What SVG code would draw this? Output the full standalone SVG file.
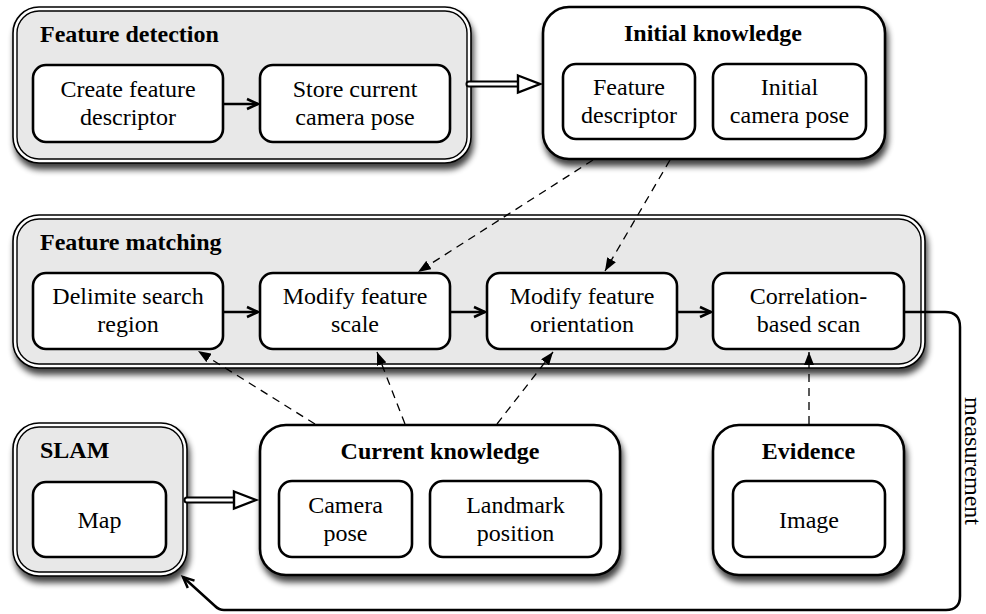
<svg xmlns="http://www.w3.org/2000/svg" width="986" height="614" viewBox="0 0 986 614">
<style>
.t{font-family:"Liberation Serif","Times New Roman",serif;font-size:24px;fill:#000;text-anchor:middle}
.tb{font-family:"Liberation Serif","Times New Roman",serif;font-size:24px;font-weight:bold;fill:#000}
.tc{text-anchor:middle}
.outer{fill:#fff;stroke:#000;stroke-width:1.6}
.innerc{fill:#e8e8e8;stroke:#000;stroke-width:1.4}
.kb{fill:#fff;stroke:#000;stroke-width:2.6}
.box{fill:#fff;stroke:#000;stroke-width:2.6}
.solid{fill:none;stroke:#000;stroke-width:2.5}
.dash{fill:none;stroke:#000;stroke-width:1.3;stroke-dasharray:8 6}
</style>
<defs>
<filter id="sh" x="-10%" y="-10%" width="125%" height="135%">
<feGaussianBlur in="SourceAlpha" stdDeviation="3"/>
<feOffset dx="2" dy="6" result="b"/>
<feComponentTransfer><feFuncA type="linear" slope="0.75"/></feComponentTransfer>
<feMerge><feMergeNode/><feMergeNode in="SourceGraphic"/></feMerge>
</filter>
<marker id="open" markerUnits="userSpaceOnUse" markerWidth="16" markerHeight="14" refX="13" refY="7" orient="auto">
<path d="M2,2 L13,7 L2,12" fill="none" stroke="#000" stroke-width="2.5"/>
</marker>
<marker id="fill" markerUnits="userSpaceOnUse" markerWidth="14" markerHeight="10" refX="13" refY="5" orient="auto">
<path d="M0,0 L13,5 L0,10 Z" fill="#000"/>
</marker>
</defs>

<g id="feature-detection">
<g filter="url(#sh)">
<rect class="outer" x="13" y="7" width="458" height="156" rx="26"/>
</g>
<rect class="innerc" x="17" y="11" width="450" height="148" rx="22"/>
<text class="tb" x="40" y="42">Feature detection</text>
</g>
<g id="create-feature-descriptor">
<rect class="box" x="33" y="65" width="190" height="77" rx="13"/>
<text class="t" x="128" y="97">Create feature</text>
<text class="t" x="128" y="125">descriptor</text>
</g>
<g id="store-current-camera-pose">
<rect class="box" x="260" y="65" width="190" height="77" rx="13"/>
<text class="t" x="355" y="97">Store current</text>
<text class="t" x="355" y="125">camera pose</text>
</g>

<g id="initial-knowledge">
<rect class="kb" x="543" y="7" width="342" height="152" rx="26" filter="url(#sh)"/>
<text class="tb tc" x="713" y="41">Initial knowledge</text>
</g>
<g id="feature-descriptor">
<rect class="box" x="563" y="64" width="132" height="75" rx="13"/>
<text class="t" x="629" y="95">Feature</text>
<text class="t" x="629" y="123">descriptor</text>
</g>
<g id="initial-camera-pose">
<rect class="box" x="713" y="64" width="153" height="75" rx="13"/>
<text class="t" x="789.5" y="95">Initial</text>
<text class="t" x="789.5" y="123">camera pose</text>
</g>

<g id="feature-matching">
<g filter="url(#sh)">
<rect class="outer" x="13" y="215" width="912" height="153" rx="26"/>
</g>
<rect class="innerc" x="17" y="219" width="904" height="145" rx="22"/>
<text class="tb" x="40" y="250">Feature matching</text>
</g>
<g id="delimite-search-region">
<rect class="box" x="33" y="273" width="190" height="76" rx="13"/>
<text class="t" x="128" y="304">Delimite search</text>
<text class="t" x="128" y="332">region</text>
</g>
<g id="modify-feature-scale">
<rect class="box" x="260" y="273" width="190" height="76" rx="13"/>
<text class="t" x="355" y="304">Modify feature</text>
<text class="t" x="355" y="332">scale</text>
</g>
<g id="modify-feature-orientation">
<rect class="box" x="487" y="273" width="190" height="76" rx="13"/>
<text class="t" x="582" y="304">Modify feature</text>
<text class="t" x="582" y="332">orientation</text>
</g>
<g id="correlation-based-scan">
<rect class="box" x="713" y="273" width="191" height="76" rx="13"/>
<text class="t" x="808.5" y="304">Correlation-</text>
<text class="t" x="808.5" y="332">based scan</text>
</g>

<g id="slam">
<g filter="url(#sh)">
<rect class="outer" x="13" y="423" width="174" height="153" rx="26"/>
</g>
<rect class="innerc" x="17" y="427" width="166" height="145" rx="22"/>
<text class="tb" x="40" y="458">SLAM</text>
</g>
<g id="map">
<rect class="box" x="33" y="482" width="133" height="75" rx="13"/>
<text class="t" x="99.5" y="528">Map</text>
</g>

<g id="current-knowledge">
<rect class="kb" x="260" y="425" width="360" height="150" rx="26" filter="url(#sh)"/>
<text class="tb tc" x="440" y="459">Current knowledge</text>
</g>
<g id="camera-pose">
<rect class="box" x="279" y="481" width="133" height="76" rx="13"/>
<text class="t" x="345.5" y="513">Camera</text>
<text class="t" x="345.5" y="541">pose</text>
</g>
<g id="landmark-position">
<rect class="box" x="430" y="481" width="171" height="76" rx="13"/>
<text class="t" x="515.5" y="513">Landmark</text>
<text class="t" x="515.5" y="541">position</text>
</g>

<g id="evidence">
<rect class="kb" x="713" y="425" width="191" height="150" rx="26" filter="url(#sh)"/>
<text class="tb tc" x="808.5" y="459">Evidence</text>
</g>
<g id="image">
<rect class="box" x="733" y="481" width="152" height="76" rx="13"/>
<text class="t" x="809" y="528">Image</text>
</g>

<g id="connectors">
<line class="solid" x1="223" y1="104" x2="258" y2="104" marker-end="url(#open)"/>
<line class="solid" x1="223" y1="312" x2="258" y2="312" marker-end="url(#open)"/>
<line class="solid" x1="450" y1="312" x2="485" y2="312" marker-end="url(#open)"/>
<line class="solid" x1="677" y1="312" x2="711" y2="312" marker-end="url(#open)"/>
<path class="solid" d="M904,312 H945 Q960,312 960,327 V596 Q960,610 946,610 H224 Q219,610 215,606 L183,577" marker-end="url(#open)"/>
<text class="t" transform="translate(965,461) rotate(90)">measurement</text>

<g id="hollow-1">
<line x1="469" y1="84" x2="522" y2="84" stroke="#000" stroke-width="7" stroke-linecap="round"/>
<line x1="469" y1="84" x2="522" y2="84" stroke="#fff" stroke-width="3" stroke-linecap="round"/>
<path d="M518,75.5 L540,84 L518,92.5 Z" fill="#fff" stroke="#000" stroke-width="2.4"/>
</g>
<g id="hollow-2">
<line x1="187" y1="500" x2="239" y2="500" stroke="#000" stroke-width="7" stroke-linecap="round"/>
<line x1="187" y1="500" x2="239" y2="500" stroke="#fff" stroke-width="3" stroke-linecap="round"/>
<path d="M234,491.5 L256,500 L234,508.5 Z" fill="#fff" stroke="#000" stroke-width="2.4"/>
</g>

<line class="dash" x1="593" y1="160" x2="418" y2="272" marker-end="url(#fill)"/>
<line class="dash" x1="670" y1="160" x2="605" y2="271" marker-end="url(#fill)"/>
<line class="dash" x1="315" y1="424" x2="198" y2="351" marker-end="url(#fill)"/>
<line class="dash" x1="405" y1="424" x2="377" y2="352" marker-end="url(#fill)"/>
<line class="dash" x1="497" y1="424" x2="553" y2="352" marker-end="url(#fill)"/>
<line class="dash" x1="809" y1="424" x2="809" y2="352" marker-end="url(#fill)"/>
</g>
</svg>
